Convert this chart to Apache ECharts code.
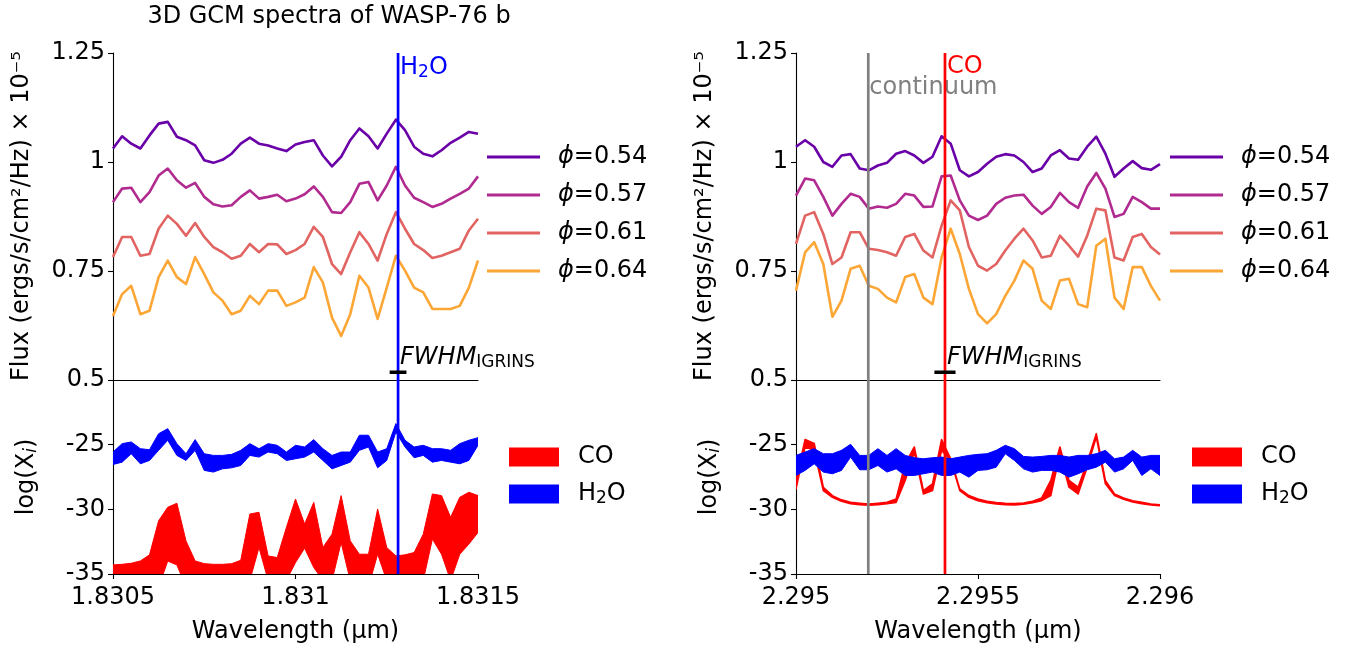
<!DOCTYPE html>
<html>
<head>
<meta charset="utf-8">
<script src="https://cdn.jsdelivr.net/npm/echarts@6/dist/echarts.min.js"></script>
<style>html,body{margin:0;padding:0;background:#fff}#c{width:1354px;height:645px}</style>
</head>
<body>
<div id="c"></div>
<script>
// ---------- data ----------
const wlLeft = [1.8305,1.830525,1.83055,1.830575,1.8306,1.830625,1.83065,1.830675,1.8307,1.830725,1.83075,1.830775,1.8308,1.830825,1.83085,1.830875,1.8309,1.830925,1.83095,1.830975,1.831,1.831025,1.83105,1.831075,1.8311,1.831125,1.83115,1.831175,1.8312,1.831225,1.83125,1.831275,1.8313,1.831325,1.83135,1.831375,1.8314,1.831425,1.83145,1.831475,1.8315];
const wlRight = [2.295,2.295025,2.29505,2.295075,2.2951,2.295125,2.29515,2.295175,2.2952,2.295225,2.29525,2.295275,2.2953,2.295325,2.29535,2.295375,2.2954,2.295425,2.29545,2.295475,2.2955,2.295525,2.29555,2.295575,2.2956,2.295625,2.29565,2.295675,2.2957,2.295725,2.29575,2.295775,2.2958,2.295825,2.29585,2.295875,2.2959,2.295925,2.29595,2.295975,2.296];

const phaseNames = ['ϕ=0.54','ϕ=0.57','ϕ=0.61','ϕ=0.64'];
const phaseColors = ['#6a00a8','#b12a90','#e16462','#fca636'];

const fluxL054 = [1.031,1.059,1.042,1.031,1.061,1.088,1.092,1.058,1.050,1.038,1.004,0.998,1.005,1.019,1.042,1.056,1.042,1.038,1.031,1.025,1.040,1.046,1.050,1.015,0.990,1.012,1.050,1.077,1.059,1.031,1.065,1.097,1.073,1.035,1.019,1.013,1.027,1.044,1.056,1.069,1.065];
const fluxL057 = [0.908,0.939,0.941,0.908,0.931,0.969,0.985,0.958,0.941,0.952,0.920,0.903,0.898,0.901,0.920,0.935,0.916,0.920,0.925,0.910,0.916,0.926,0.944,0.920,0.885,0.883,0.908,0.950,0.954,0.912,0.946,0.989,0.946,0.918,0.908,0.897,0.904,0.916,0.927,0.939,0.967];
const fluxL061 = [0.782,0.828,0.828,0.785,0.789,0.847,0.877,0.858,0.831,0.860,0.828,0.805,0.793,0.778,0.785,0.812,0.793,0.812,0.811,0.789,0.798,0.812,0.851,0.828,0.766,0.743,0.793,0.839,0.812,0.774,0.835,0.885,0.847,0.812,0.798,0.780,0.785,0.793,0.801,0.843,0.870];
const fluxL064 = [0.647,0.697,0.716,0.651,0.659,0.736,0.774,0.736,0.720,0.782,0.743,0.701,0.682,0.651,0.659,0.693,0.674,0.705,0.705,0.670,0.678,0.689,0.759,0.724,0.643,0.601,0.651,0.739,0.712,0.640,0.712,0.785,0.751,0.712,0.701,0.663,0.663,0.663,0.670,0.712,0.774];

const fluxR054 = [1.035,1.050,1.035,1.000,0.989,1.015,1.018,0.985,0.981,0.992,0.998,1.019,1.025,1.015,0.998,1.012,1.059,1.042,0.981,0.967,0.977,0.996,1.012,1.018,1.015,1.000,0.977,0.985,1.015,1.027,1.008,1.005,1.035,1.058,1.019,0.966,0.985,1.002,0.986,0.982,0.995];
const fluxR057 = [0.923,0.962,0.958,0.920,0.877,0.904,0.927,0.920,0.893,0.898,0.895,0.904,0.927,0.923,0.897,0.898,0.967,0.969,0.912,0.877,0.867,0.877,0.904,0.918,0.923,0.925,0.900,0.881,0.897,0.929,0.908,0.895,0.944,0.975,0.939,0.874,0.881,0.920,0.908,0.893,0.893];
const fluxR061 = [0.812,0.877,0.885,0.835,0.766,0.781,0.839,0.839,0.801,0.798,0.793,0.785,0.828,0.835,0.797,0.781,0.854,0.912,0.889,0.805,0.762,0.751,0.766,0.797,0.824,0.847,0.820,0.781,0.785,0.831,0.808,0.783,0.831,0.893,0.889,0.781,0.774,0.828,0.835,0.805,0.788];
const fluxR064 = [0.705,0.793,0.816,0.766,0.645,0.682,0.755,0.762,0.716,0.709,0.689,0.678,0.736,0.743,0.689,0.674,0.781,0.847,0.789,0.709,0.651,0.630,0.651,0.693,0.728,0.774,0.755,0.682,0.663,0.728,0.732,0.674,0.667,0.808,0.824,0.689,0.663,0.759,0.759,0.716,0.682];

const h2oUpL = [-25.57,-24.92,-24.79,-25.31,-25.39,-24.15,-23.76,-24.92,-25.70,-24.61,-25.70,-25.83,-25.83,-25.75,-25.44,-24.92,-25.31,-24.92,-25.05,-25.57,-25.05,-25.18,-24.61,-25.31,-25.83,-25.57,-25.57,-24.27,-24.27,-25.57,-25.31,-23.37,-24.66,-25.18,-25.05,-25.31,-25.31,-25.44,-24.92,-24.66,-24.46];
const h2oLoL = [-26.53,-26.35,-25.70,-26.48,-26.22,-25.44,-24.66,-25.83,-26.22,-25.44,-26.99,-27.12,-26.87,-26.79,-26.61,-25.83,-25.96,-25.57,-25.70,-26.22,-26.09,-25.96,-25.57,-26.22,-26.87,-26.61,-26.35,-25.44,-25.18,-26.79,-26.22,-24.02,-25.18,-26.01,-25.83,-26.35,-26.22,-26.35,-26.48,-26.22,-25.05];
const coUpL = [-34.30,-34.25,-34.17,-33.99,-33.52,-30.88,-29.84,-29.53,-32.44,-33.99,-34.20,-34.25,-34.25,-34.20,-33.94,-30.36,-30.23,-33.60,-33.73,-31.40,-29.20,-31.14,-29.46,-32.95,-31.92,-28.94,-32.44,-33.47,-33.47,-29.97,-32.95,-33.60,-33.52,-33.34,-31.92,-28.81,-28.94,-30.62,-29.07,-28.68,-28.94];
const coLoL = [-36,-36,-36,-36,-36,-36,-34.0,-34.3,-36,-36,-36,-36,-36,-36,-36,-35.5,-32.95,-35.5,-35.5,-35.5,-34.12,-33.0,-34.5,-35.5,-35.5,-32.57,-35.5,-36,-36,-33.47,-35.5,-36,-36,-36,-35.5,-32.3,-33.47,-35.5,-33.47,-32.69,-31.79];

const h2oUpR = [-25.83,-25.57,-25.31,-25.70,-25.70,-25.44,-24.97,-25.83,-25.83,-25.31,-25.83,-25.31,-25.83,-26.01,-26.09,-26.01,-25.96,-26.09,-25.96,-25.83,-25.75,-25.70,-25.44,-25.05,-25.31,-25.91,-25.96,-25.91,-25.83,-25.83,-25.96,-25.83,-25.83,-25.70,-25.44,-26.09,-25.96,-25.44,-25.96,-25.83,-25.83];
const h2oLoR = [-27.38,-26.99,-26.48,-27.12,-27.25,-26.99,-25.96,-26.94,-26.94,-26.61,-27.12,-26.87,-27.38,-27.38,-27.25,-27.12,-27.38,-27.38,-27.12,-27.51,-26.99,-26.94,-26.74,-25.70,-26.22,-26.87,-27.12,-26.99,-26.99,-27.12,-27.51,-27.25,-26.94,-26.74,-26.35,-27.12,-26.87,-26.22,-27.38,-26.87,-27.38];
const coUpR = [-27.77,-24.60,-24.90,-28.29,-28.94,-29.27,-29.46,-29.53,-29.59,-29.53,-29.46,-29.20,-26.48,-25.18,-28.55,-28.03,-24.60,-26.09,-28.42,-28.94,-29.20,-29.38,-29.48,-29.53,-29.56,-29.51,-29.38,-29.12,-27.77,-25.18,-27.77,-28.29,-26.35,-24.15,-27.77,-28.81,-29.12,-29.33,-29.46,-29.59,-29.64];
const coLoR = [-28.42,-25.18,-25.44,-28.55,-29.07,-29.38,-29.56,-29.64,-29.69,-29.64,-29.56,-29.46,-27.77,-25.57,-28.81,-28.55,-25.44,-26.22,-28.55,-29.07,-29.33,-29.48,-29.59,-29.64,-29.66,-29.61,-29.48,-29.33,-28.94,-25.70,-28.29,-28.81,-26.74,-24.40,-28.03,-28.94,-29.22,-29.43,-29.56,-29.66,-29.72];

const lineH2O = 1.831281;       // H2O marker (left)
const lineCont = 2.2951986;     // continuum marker (right)
const lineCO = 2.2954093;       // CO marker (right)
const fwhmLeft = 4.6e-5;        // FWHM bar width (left)
const fwhmRight = 5.8e-5;       // FWHM bar width (right)
const fwhmY = 0.518;

const xTicksL = [1.8305, 1.8315, 0.0005];
const xTicksR = [2.295, 2.296, 0.0005];
const fluxTicks = [0.5, 1.25, 0.25];
const logTicks = [-35, -20, 5];

// ---------- chart ----------
const FONT = 'DejaVu Sans';
const FS = 24;
const SUB = 17;
const chart = echarts.init(document.getElementById('c'), null, {renderer: 'canvas'});

const tickS = {show: true, inside: false, length: 5, lineStyle: {color: '#000', width: 1.1}};
const labelS = {color: '#000', fontSize: FS, fontFamily: FONT};

function xAx(grid, t, bottom) {
  return {
    type: 'value', gridIndex: grid, min: t[0], max: t[1], interval: t[2],
    axisLine: {show: true, onZero: false, lineStyle: {color: '#000', width: 1.1}},
    axisTick: bottom ? tickS : {show: false},
    axisLabel: bottom ? Object.assign({margin: 12, showMinLabel: true, showMaxLabel: true}, labelS) : {show: false},
    splitLine: {show: false},
    name: bottom ? 'Wavelength (µm)' : '',
    nameLocation: 'middle', nameGap: 46,
    nameTextStyle: {color: '#000', fontSize: FS, fontFamily: FONT}
  };
}
function yAx(grid, t, hideMax) {
  return {
    type: 'value', gridIndex: grid, min: t[0], max: t[1], interval: t[2],
    axisLine: {show: true, onZero: false, lineStyle: {color: '#000', width: 1.1}},
    axisTick: tickS,
    axisLabel: Object.assign({margin: 8, showMaxLabel: !hideMax,
      formatter: v => (hideMax && v === t[1]) ? '' : String(v)}, labelS),
    splitLine: {show: false}
  };
}

function fluxSeries(x, y, idx, name) {
  return {
    type: 'line', name: phaseNames[name], xAxisIndex: idx, yAxisIndex: idx,
    data: x.map((w, i) => [w, y[i]]), showSymbol: false, symbol: 'none',
    color: phaseColors[name], itemStyle: {color: phaseColors[name]},
    lineStyle: {color: phaseColors[name], width: 2.6, join: 'round'}, z: 3, silent: true
  };
}
function band(x, up, lo, idx, name, color, lw) {
  return {
    type: 'custom', name: name, xAxisIndex: idx, yAxisIndex: idx, clip: true,
    color: color, itemStyle: {color: color}, silent: true, z: 2,
    data: [[x[0], up[0]]],
    renderItem: function (params, api) {
      const pts = [];
      for (let i = 0; i < x.length; i++) pts.push(api.coord([x[i], up[i]]));
      for (let i = x.length - 1; i >= 0; i--) pts.push(api.coord([x[i], lo[i]]));
      const cs = params.coordSys;
      return {
        type: 'polygon', shape: {points: pts},
        clipPath: {type: 'rect', shape: {x: cs.x, y: cs.y, width: cs.width, height: cs.height}},
        style: {fill: color, stroke: color, lineWidth: lw, lineJoin: 'round'}
      };
    }
  };
}
function vline(wl, idx, t, color) {
  return {
    type: 'line', xAxisIndex: idx, yAxisIndex: idx, data: [[wl, t[0]], [wl, t[1]]],
    symbol: 'none', lineStyle: {color: color, width: 2.7}, z: 10, silent: true
  };
}
function fwhm(wl, w, idx) {
  return {
    type: 'line', xAxisIndex: idx, yAxisIndex: idx,
    data: [[wl - w / 2, fwhmY], [wl + w / 2, fwhmY]],
    symbol: 'none', lineStyle: {color: '#000', width: 3.5}, z: 11, silent: true
  };
}

const series = [];
[[fluxL054, 0], [fluxL057, 1], [fluxL061, 2], [fluxL064, 3]].forEach(p => series.push(fluxSeries(wlLeft, p[0], 0, p[1])));
[[fluxR054, 0], [fluxR057, 1], [fluxR061, 2], [fluxR064, 3]].forEach(p => series.push(fluxSeries(wlRight, p[0], 2, p[1])));
series.push(band(wlLeft, coUpL, coLoL, 1, 'CO', '#ff0000', 1));
series.push(band(wlLeft, h2oUpL, h2oLoL, 1, 'H₂O', '#0000ff', 1));
series.push(band(wlRight, coUpR, coLoR, 3, 'CO', '#ff0000', 1.6));
series.push(band(wlRight, h2oUpR, h2oLoR, 3, 'H₂O', '#0000ff', 1));
series.push(vline(lineH2O, 0, fluxTicks, '#0000ff'));
series.push(vline(lineH2O, 1, logTicks, '#0000ff'));
series.push(vline(lineCont, 2, fluxTicks, '#808080'));
series.push(vline(lineCont, 3, logTicks, '#808080'));
series.push(vline(lineCO, 2, fluxTicks, '#ff0000'));
series.push(vline(lineCO, 3, logTicks, '#ff0000'));
series.push(fwhm(lineH2O, fwhmLeft, 0));
series.push(fwhm(lineCO, fwhmRight, 2));

const legendText = {color: '#000', fontSize: FS, fontFamily: FONT, lineHeight: 26,
  rich: {i: {fontStyle: 'italic', fontSize: FS, fontFamily: FONT, color: '#000'},
         n: {fontSize: FS, fontFamily: FONT, color: '#000'},
         s: {fontSize: SUB, fontFamily: FONT, color: '#000', padding: [10, 0, 0, 0]}}};
function phiFmt(name) { return '{i|ϕ}{n|' + name.slice(1) + '}'; }
function specFmt(name) { return name === 'CO' ? '{n|CO}' : '{n|H}{s|2}{n|O}'; }

function lineLegend(left) {
  return {orient: 'vertical', left: left, top: 144, padding: 0, itemGap: 12,
    itemWidth: 53, itemHeight: 3, icon: 'rect', data: phaseNames, selectedMode: false,
    formatter: phiFmt, textStyle: Object.assign({padding: [0, 0, 0, 13]}, legendText)};
}
function bandLegend(left) {
  return {orient: 'vertical', left: left, top: 444, padding: 0, itemGap: 11,
    itemWidth: 50, itemHeight: 19, icon: 'rect', data: ['CO', 'H₂O'], selectedMode: false,
    formatter: specFmt, textStyle: Object.assign({padding: [0, 0, 0, 14]}, legendText)};
}

const option = {
  animation: false,
  backgroundColor: '#fff',
  grid: [
    {left: 113, top: 53, width: 365, height: 327},
    {left: 113, top: 380, width: 365, height: 194},
    {left: 796, top: 53, width: 364, height: 327},
    {left: 796, top: 380, width: 364, height: 194}
  ],
  xAxis: [xAx(0, xTicksL, false), xAx(1, xTicksL, true), xAx(2, xTicksR, false), xAx(3, xTicksR, true)],
  yAxis: [yAx(0, fluxTicks, false), yAx(1, logTicks, true), yAx(2, fluxTicks, false), yAx(3, logTicks, true)],
  legend: [lineLegend(487), bandLegend(509), lineLegend(1170), bandLegend(1192)],
  series: series
};
chart.setOption(option);

// ---------- text annotations positioned through the axes ----------
const pL = chart.convertToPixel({gridIndex: 0}, [lineH2O, fluxTicks[1]]);
const pC = chart.convertToPixel({gridIndex: 2}, [lineCO, fluxTicks[1]]);
const pG = chart.convertToPixel({gridIndex: 2}, [lineCont, fluxTicks[1]]);
const fL = chart.convertToPixel({gridIndex: 0}, [lineH2O, fwhmY]);
const fR = chart.convertToPixel({gridIndex: 2}, [lineCO, fwhmY]);

const baseT = {fontFamily: FONT, fontSize: FS, fill: '#000'};
const fwhmRich = {i: {fontStyle: 'italic', fontSize: FS, fontFamily: FONT, fill: '#000'},
                  s: {fontSize: SUB, fontFamily: FONT, fill: '#000', padding: [9, 0, 0, 0]}};
const logRich = {a: {fontSize: FS, fontFamily: FONT, fill: '#000'},
                 s: {fontSize: SUB, fontFamily: FONT, fontStyle: 'italic', fill: '#000', padding: [9, 0, 0, 0]}};
const H2Orich = {a: {fontSize: FS, fontFamily: FONT, fill: '#0000ff'},
                 s: {fontSize: SUB, fontFamily: FONT, fill: '#0000ff', padding: [9, 0, 0, 0]}};

chart.setOption({graphic: [
  {type: 'text', x: 329, y: 17, style: Object.assign({}, baseT, {text: '3D GCM spectra of WASP-76 b', align: 'center', verticalAlign: 'middle'})},
  {type: 'text', x: pL[0] + 2, y: pL[1] + 2, style: {text: '{a|H}{s|2}{a|O}', rich: H2Orich, align: 'left', verticalAlign: 'top'}},
  {type: 'text', x: pC[0] + 2, y: pC[1] + 2, style: Object.assign({}, baseT, {text: 'CO', fill: '#ff0000', align: 'left', verticalAlign: 'top'})},
  {type: 'text', x: pG[0] + 1, y: pG[1] + 23, style: Object.assign({}, baseT, {text: 'continuum', fill: '#808080', align: 'left', verticalAlign: 'top'})},
  {type: 'text', x: fL[0] + 2, y: fL[1] - 1, style: {text: '{i|FWHM}{s|IGRINS}', rich: fwhmRich, align: 'left', verticalAlign: 'bottom'}},
  {type: 'text', x: fR[0] + 2, y: fR[1] - 1, style: {text: '{i|FWHM}{s|IGRINS}', rich: fwhmRich, align: 'left', verticalAlign: 'bottom'}},
  {type: 'text', x: 22, y: 216, rotation: Math.PI / 2, style: Object.assign({}, baseT, {text: 'Flux (ergs/s/cm²/Hz) × 10⁻⁵', align: 'center', verticalAlign: 'middle'})},
  {type: 'text', x: 705, y: 216, rotation: Math.PI / 2, style: Object.assign({}, baseT, {text: 'Flux (ergs/s/cm²/Hz) × 10⁻⁵', align: 'center', verticalAlign: 'middle'})},
  {type: 'text', x: 27, y: 477, rotation: Math.PI / 2, style: {text: '{a|log(X}{s|i}{a|)}', rich: logRich, align: 'center', verticalAlign: 'middle'}},
  {type: 'text', x: 710, y: 477, rotation: Math.PI / 2, style: {text: '{a|log(X}{s|i}{a|)}', rich: logRich, align: 'center', verticalAlign: 'middle'}}
]});
</script>
</body>
</html>
